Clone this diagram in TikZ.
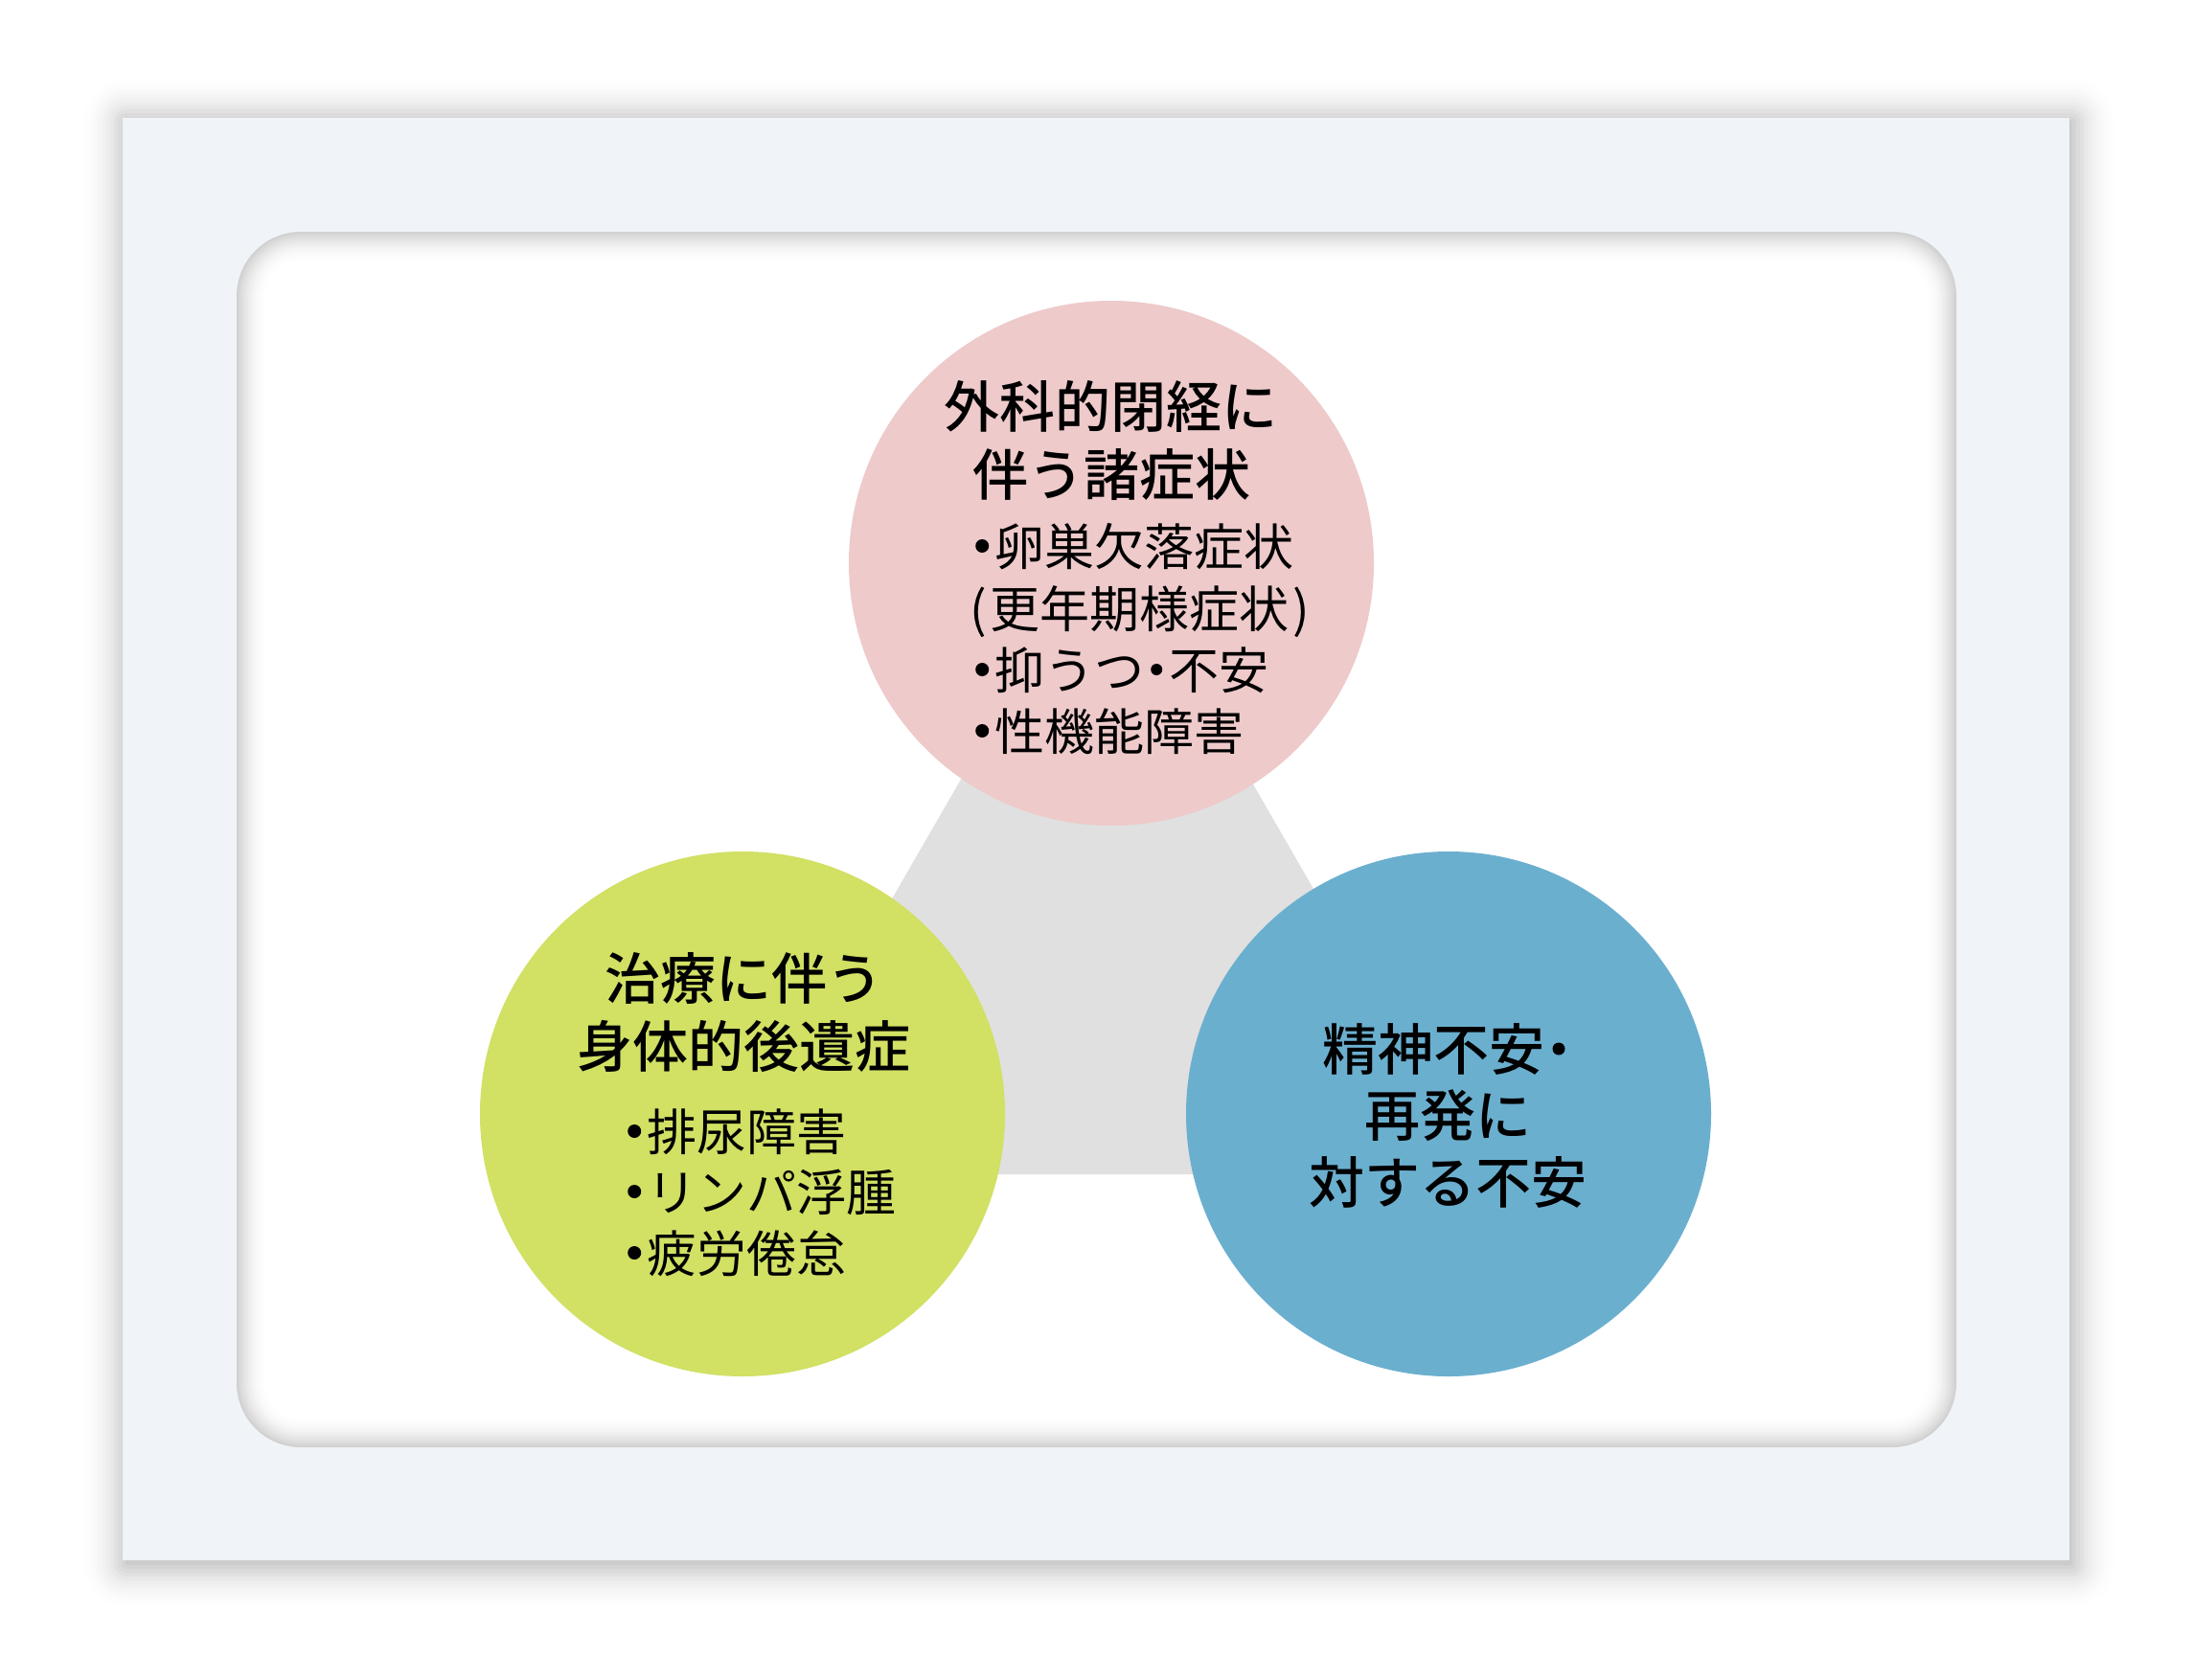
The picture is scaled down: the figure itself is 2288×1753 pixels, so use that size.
\documentclass[tikz,border=0pt]{standalone}
\usepackage{fontspec}
\newfontfamily\jp{Noto Sans CJK JP}
\IfFontExistsTF{Noto Sans CJK JP Medium}
  {\newfontfamily\jpt{Noto Sans CJK JP Medium}}
  {\newfontfamily\jpt{Noto Sans CJK JP}[UprightFont=*,BoldFont=*]}
\definecolor{panelbg}{HTML}{F0F3F8}
\definecolor{pinkc}{HTML}{EECACB}
\definecolor{greenc}{HTML}{D2E064}
\definecolor{bluec}{HTML}{6BAFCF}
\definecolor{trig}{HTML}{E0E0E0}
\newcommand\bul[1]{\makebox[26pt][c]{\raisebox{20pt}{\tikz[baseline=0pt]\fill[black] (0pt,0pt) circle (#1);}}}
\begin{document}
\begin{tikzpicture}[x=1pt,y=-1pt,
  ttl/.style={font=\jpt\fontsize{58}{70}\selectfont, inner sep=0pt, anchor=base},
  itm/.style={font=\jp\fontsize{52}{63}\selectfont, inner sep=0pt, anchor=base west},
  bubble/.style={circle, minimum size=548pt, inner sep=0pt, draw=none}]
\useasboundingbox (0,0) rectangle (2288,1753);
\fill[white] (0,0) rectangle (2288,1753);
% outer panel shadow
\foreach \k in {48,44,...,0}{
  \pgfmathsetmacro\p{20*(1-\k/50)^2}
  \pgfmathsetmacro\r{\k+1}
  \fill[black!\p, rounded corners=\r pt] (128-\k+3,123-\k+3) rectangle (2160+\k+3,1629+\k+5);
}
\fill[panelbg] (128,123) rectangle (2160,1629);
% inner rounded area with inset shadow
\foreach \k in {0,2,...,30}{
  \pgfmathsetmacro\p{18*(1-\k/32)^2}
  \pgfmathsetmacro\r{67-\k}
  \fill[black!\p, rounded corners=\r pt] (247+\k,242+\k) rectangle (2042-\k,1511-\k);
}
\fill[white, rounded corners=35pt] (279,274) rectangle (2010,1479);
% triangle
\coordinate (apex) at (1154,552);
\coordinate (bl) at (765,1226);
\coordinate (br) at (1543,1226);
\fill[trig] (apex) -- (bl) -- (br) -- cycle;
% circles
\node[bubble, fill=pinkc] (top) at (1160,588) {};
\node[bubble, fill=greenc] (left) at (775,1163) {};
\node[bubble, fill=bluec] (right) at (1512,1163) {};
% pink texts
\node[ttl] (t1a) at (1159,446) {外科的閉経に};
\node[ttl] (t1b) at (1160,517) {伴う諸症状};
\node[itm] (i1a) at (1012,590) {\bul{7pt}卵巣欠落症状};
\node[itm] (i1b) at (1012,655) {(\kern4pt更年期様症状\kern4pt)};
\node[itm] (i1c) at (1012,719) {\bul{7pt}抑うつ\bul{6pt}不安};
\node[itm] (i1d) at (1012,783) {\bul{7pt}性機能障害};
% green texts
\node[ttl] (t2a) at (776,1043) {治療に伴う};
\node[ttl] (t2b) at (776,1114) {身体的後遺症};
\node[itm] (i2a) at (649,1201) {\bul{7pt}排尿障害};
\node[itm] (i2b) at (649,1264) {\bul{7pt}リンパ浮腫};
\node[itm] (i2c) at (649,1328) {\bul{7pt}疲労倦怠};
% blue texts
\node[ttl] (t3a) at (1511,1117) {精神不安\makebox[29pt][c]{\raisebox{22pt}{\tikz[baseline=0pt]\fill[black] (0pt,0pt) circle (6.5pt);}}};
\node[ttl] (t3b) at (1511,1186) {再発に};
\node[ttl] (t3c) at (1511,1256) {対する不安};
\end{tikzpicture}
\end{document}
